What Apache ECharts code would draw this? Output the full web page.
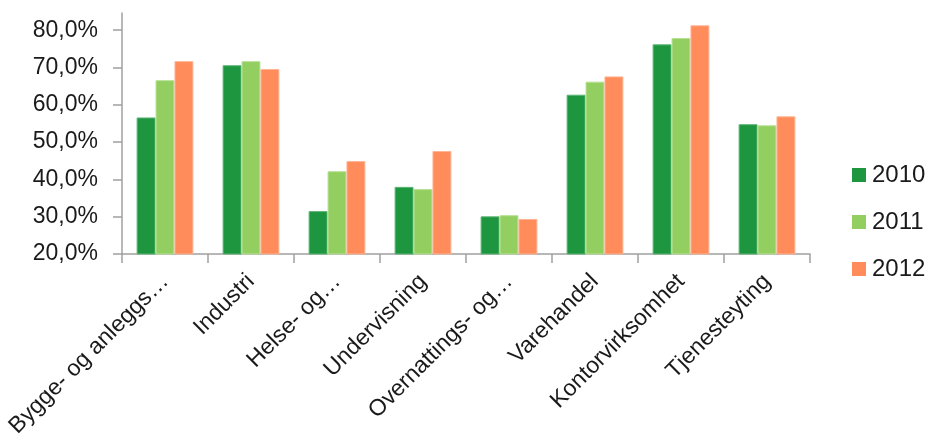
<!DOCTYPE html>
<html>
<head>
<meta charset="utf-8">
<script src="https://cdn.jsdelivr.net/npm/echarts@6/dist/echarts.min.js"></script>
<style>
html,body{margin:0;padding:0;background:#fff;}
#chart{width:930px;height:435px;}
</style>
</head>
<body>
<div id="chart"></div>
<script>
const categories = ["Bygge- og anleggs…", "Industri", "Helse- og…", "Undervisning", "Overnattings- og…", "Varehandel", "Kontorvirksomhet", "Tjenesteyting"];
const years = ["2010", "2011", "2012"];
const values2010 = [56.6, 70.6, 31.5, 38.0, 30.1, 62.7, 76.2, 54.8];
const values2011 = [66.6, 71.7, 42.2, 37.4, 30.4, 66.2, 77.9, 54.5];
const values2012 = [71.7, 69.6, 44.9, 47.6, 29.4, 67.6, 81.3, 56.9];
const yTicks = [20, 30, 40, 50, 60, 70, 80];

const colors = ["#1D963F", "#93CF60", "#FF8C5A"];
const borders = ["#5DB574", "#B7E195", "#FFB494"];
const seriesValues = [values2010, values2011, values2012];
const FONT = "'Liberation Sans', Arial, sans-serif";

const chart = echarts.init(document.getElementById('chart'), null, {renderer: 'canvas'});
chart.setOption({
  animation: false,
  backgroundColor: '#ffffff',
  grid: {left: 122, right: 120, top: 13, bottom: 181, containLabel: false, outerBoundsMode: 'none'},
  legend: {
    orient: 'vertical',
    left: 847,
    top: 158,
    itemWidth: 14,
    itemHeight: 14,
    itemGap: 23,
    itemStyle: {borderWidth: 0},
    textStyle: {fontFamily: FONT, fontSize: 24, color: '#1a1a1a', lineHeight: 24, padding: [0,0,0,1]},
    data: years.map(y => ({name: y, icon: 'rect'}))
  },
  xAxis: {
    type: 'category',
    data: categories,
    axisLine: {lineStyle: {color: '#A0A0A0', width: 1.5}},
    axisTick: {show: true, length: 9, lineStyle: {color: '#A0A0A0', width: 1.5}},
    axisLabel: {rotate: 45, margin: 24, fontFamily: FONT, fontSize: 23, color: '#1a1a1a', interval: 0},
    splitLine: {show: false}
  },
  yAxis: {
    type: 'value',
    min: 20,
    max: 84.6,
    interval: 10,
    axisLine: {show: true, lineStyle: {color: '#A0A0A0', width: 1.5}},
    axisTick: {show: true, length: 9, customValues: yTicks, lineStyle: {color: '#A0A0A0', width: 1.5}},
    axisLabel: {customValues: yTicks, margin: 24, fontFamily: FONT, fontSize: 23, color: '#1a1a1a',
      formatter: v => v.toFixed(1).replace('.', ',') + '%'},
    splitLine: {show: false}
  },
  series: years.map((y, i) => ({
    name: y,
    type: 'bar',
    data: seriesValues[i],
    barGap: '0%',
    barCategoryGap: '34%',
    itemStyle: {color: colors[i], borderColor: borders[i], borderWidth: 1}
  }))
});
</script>
</body>
</html>
